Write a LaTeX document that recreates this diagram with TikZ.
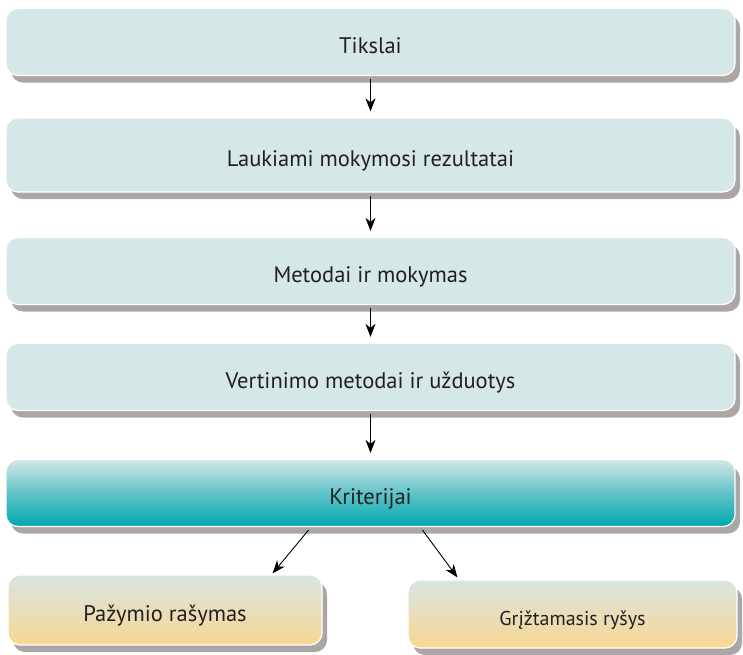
\documentclass[tikz,border=0pt]{standalone}
\usepackage{fontspec}
\setmainfont{PT Sans}
\usetikzlibrary{arrows.meta,shadows}
\definecolor{boxfill}{HTML}{D5E7E7}
\definecolor{boxshadow}{HTML}{ADA6A6}
\definecolor{critbottom}{HTML}{00A7B0}
\definecolor{gradetop}{HTML}{D8E5E3}
\definecolor{gradebottom}{HTML}{F8D792}
\definecolor{boxtext}{HTML}{231F20}

\begin{document}
\begin{tikzpicture}[x=1pt,y=1pt,
  stage/.style={rounded corners=12pt, draw=white, line width=1.2pt, fill=boxfill,
    minimum width=729pt, minimum height=67pt, inner sep=0pt, text=boxtext,
    text height=24pt, text depth=2pt,
    font=\fontsize{22.5}{26}\selectfont,
    drop shadow={shadow xshift=5pt, shadow yshift=-7pt, fill=boxshadow, opacity=1}},
  crit/.style={stage, top color=boxfill, bottom color=critbottom, middle color=critbottom!55!boxfill},
  result/.style={stage, top color=gradetop, bottom color=gradebottom},
  flow/.style={-{Stealth[length=13pt, width=10pt, inset=4pt]}, line width=0.9pt, black}]
  \useasboundingbox (0,0) rectangle (743,-654);
  % the chain of boxes
  \node[stage] (goals) at (370.5,-42) {Tikslai};
  \node[stage, minimum height=74pt] (outcomes) at (370.5,-155) {Laukiami mokymosi rezultatai};
  \node[stage] (methods) at (370.5,-271) {Metodai ir mokymas};
  \node[stage] (assess) at (370.5,-377) {Vertinimo metodai ir užduotys};
  \node[crit] (criteria) at (370.5,-493) {Kriterijai};
  \node[result, minimum width=314pt, minimum height=70pt] (grading) at (165,-610) {Pažymio rašymas};
  \node[result, minimum width=329pt, minimum height=68pt, font=\fontsize{20}{24}\selectfont] (feedback) at (572.5,-614) {Grįžtamasis ryšys};
  % arrows
  \draw[flow] ([yshift=-3pt]goals.south) -- ([yshift=6pt]outcomes.north);
  \draw[flow] ([yshift=-3pt]outcomes.south) -- ([yshift=6pt]methods.north);
  \draw[flow] ([yshift=-3pt]methods.south) -- ([yshift=6pt]assess.north);
  \draw[flow] ([yshift=-3pt]assess.south) -- ([yshift=6pt]criteria.north);
  \draw[flow] ([xshift=-62pt, yshift=-3pt]criteria.south) -- ([xshift=-50pt, yshift=1pt]grading.north east);
  \draw[flow] ([xshift=52pt, yshift=-3pt]criteria.south) -- ([xshift=50pt, yshift=2pt]feedback.north west);
\end{tikzpicture}
\end{document}
